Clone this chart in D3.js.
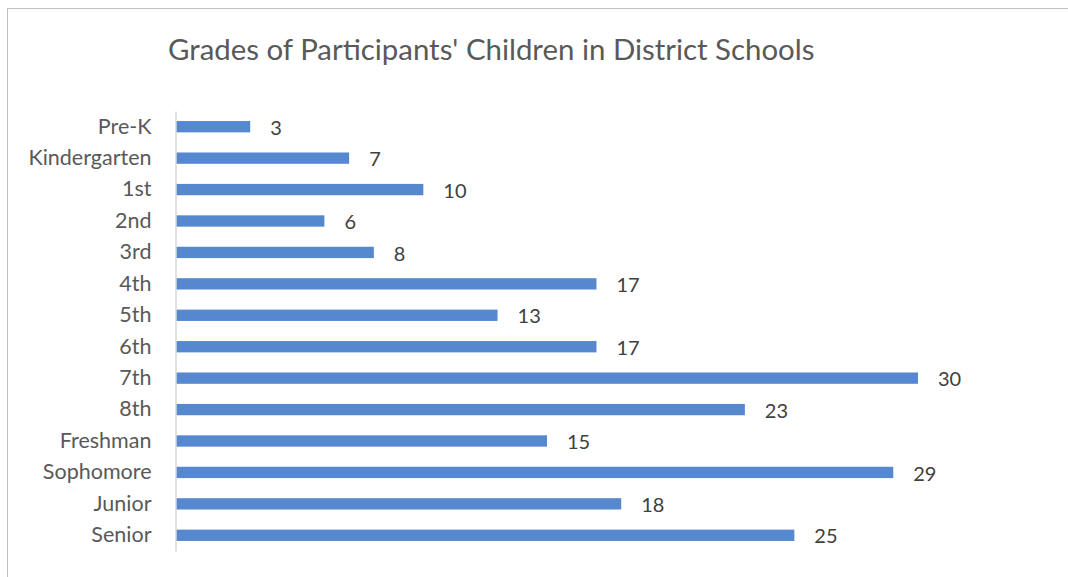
<!DOCTYPE html>
<html>
<head>
<meta charset="utf-8">
<script src="https://cdn.jsdelivr.net/npm/d3@7"></script>
<style>
  body { margin: 0; background: #fff; }
  svg { display: block; }
</style>
</head>
<body>
<script>
const grades = ["Pre-K", "Kindergarten", "1st", "2nd", "3rd", "4th", "5th", "6th",
                "7th", "8th", "Freshman", "Sophomore", "Junior", "Senior"];
const counts = [3, 7, 10, 6, 8, 17, 13, 17, 30, 23, 15, 29, 18, 25];

const w = 1068;
const h = 577;
const plotLeft = 176;
const plotTop = 111;
const plotBottom = 551;
const font = "Lato, 'Open Sans', sans-serif";

const svg = d3.select("body")
    .append("svg")
    .attr("width", w)
    .attr("height", h);

// chart frame (right and bottom edges fall outside the picture)
svg.append("rect")
    .attr("x", 7.5).attr("y", 8.5)
    .attr("width", w + 20).attr("height", h + 20)
    .attr("fill", "none")
    .attr("stroke", "#bfbfbf")
    .attr("stroke-width", 1);

svg.append("text")
    .attr("x", 168)
    .attr("y", 60)
    .attr("font-family", font)
    .attr("font-size", 29.4)
    .attr("fill", "#595959")
    .text("Grades of Participants' Children in District Schools");

const xScale = d3.scaleLinear()
    .domain([0, 30])
    .range([plotLeft, 918]);

const yScale = d3.scaleBand()
    .domain(grades)
    .range([plotTop, plotBottom])
    .paddingInner(0.64)
    .paddingOuter(0.32);

const data = grades.map((g, i) => ({ grade: g, count: counts[i] }));

svg.selectAll("rect.bar").data(data).enter()
    .append("rect")
    .attr("class", "bar")
    .attr("x", xScale(0))
    .attr("y", (d) => yScale(d.grade))
    .attr("width", (d) => xScale(d.count) - xScale(0))
    .attr("height", yScale.bandwidth())
    .attr("fill", "#5588cf");

svg.selectAll("text.val").data(data).enter()
    .append("text")
    .attr("class", "val")
    .attr("x", (d) => xScale(d.count) + 20)
    .attr("y", (d) => yScale(d.grade) + yScale.bandwidth() / 2 + 1)
    .attr("dy", "0.36em")
    .attr("font-family", font)
    .attr("font-size", 20)
    .attr("fill", "#404040")
    .text((d) => d.count);

const yAxis = d3.axisLeft(yScale).tickSize(0).tickPadding(24);
const gy = svg.append("g")
    .attr("transform", "translate(" + (plotLeft - 0.5) + ",0)")
    .call(yAxis);
gy.select(".domain").attr("stroke", "#d9d9d9").attr("stroke-width", 1.5);
gy.selectAll("text")
    .attr("font-family", font)
    .attr("font-size", 21.5)
    .attr("fill", "#595959");
</script>
</body>
</html>
